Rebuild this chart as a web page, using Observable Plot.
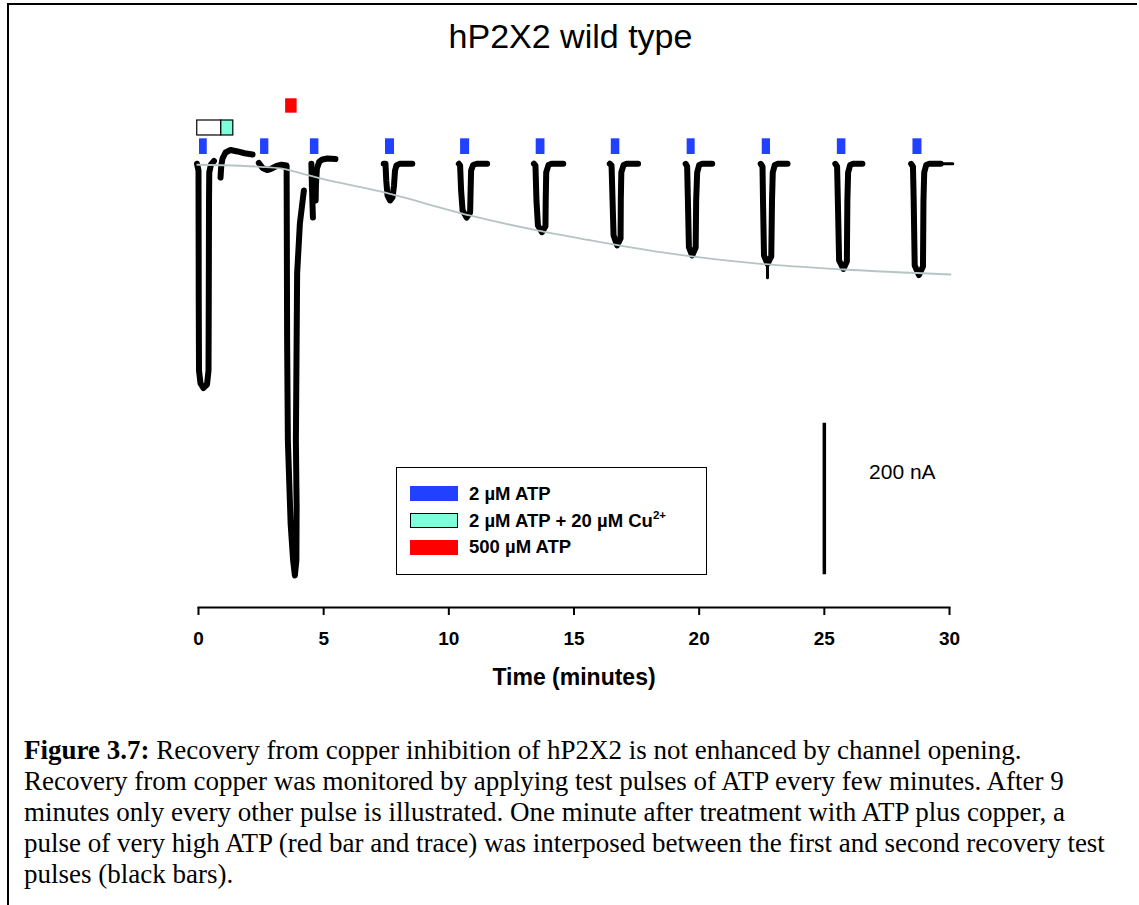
<!DOCTYPE html>
<html><head><meta charset="utf-8">
<script src="https://cdn.jsdelivr.net/npm/d3@7"></script>
<script src="https://cdn.jsdelivr.net/npm/@observablehq/plot@0.6"></script>
<style>
body{margin:0;background:#fff;}
#page{position:relative;width:1139px;height:905px;overflow:hidden;font-family:"Liberation Sans",Arial,sans-serif;color:#000;}
#border{position:absolute;left:7px;top:3px;width:1128px;height:920px;border-top:2px solid #000;border-left:2px solid #000;}
#title{position:absolute;top:17px;left:0;width:1141px;text-align:center;font-size:34px;line-height:38px;}
#chart{position:absolute;left:0;top:60px;}
#legend{position:absolute;left:396px;top:467px;width:311px;height:108px;box-sizing:border-box;border:1.5px solid #000;background:#fff;}
.sw{position:absolute;left:13px;width:48px;height:15px;box-sizing:border-box;}
.lt{position:absolute;left:72px;font-size:18.5px;font-weight:bold;line-height:22px;white-space:nowrap;}
.lt sup{font-size:11.5px;vertical-align:0;position:relative;top:-8px;}
#caption{position:absolute;left:24px;top:735px;font-family:"Liberation Serif","Times New Roman",serif;font-size:27px;line-height:31px;white-space:nowrap;}
</style></head>
<body><div id="page">
<div id="border"></div>
<div id="title">hP2X2 wild type</div>
<div id="chart"></div>
<div id="legend"></div>
<div id="caption"><b>Figure 3.7:</b> Recovery from copper inhibition of hP2X2 is not enhanced by channel opening.<br>Recovery from copper was monitored by applying test pulses of ATP every few minutes. After 9<br>minutes only every other pulse is illustrated. One minute after treatment with ATP plus copper, a<br>pulse of very high ATP (red bar and trace) was interposed between the first and second recovery test<br>pulses (black bars).</div>
</div>
<script>
// ---- data (time in minutes, current in nA) ----
const xTicks = [0, 5, 10, 15, 20, 25, 30];

const blueStart = [0.04, 2.48, 4.47, 7.47, 10.47, 13.49, 16.49, 19.52, 22.52, 25.52, 28.54];
const blueEnd   = [0.35, 2.81, 4.81, 7.83, 10.83, 13.84, 16.83, 19.84, 22.85, 25.86, 28.90];
const redStart = [3.48];
const redEnd   = [3.94];
const preStart = [-0.05];   // open (white) box
const preEnd   = [0.91];
const cuStart  = [0.91];    // 2 µM ATP + 20 µM Cu2+
const cuEnd    = [1.39];

const fitT = [-0.05, 1.68, 2.48, 3.28, 4.07, 4.87, 7.27, 10.87, 13.53, 15.53, 18.46, 22.45, 25.78, 30.04];
const fitI = [-1.3, -2.6, -4.0, -6.2, -12.2, -19.2, -36.6, -68.5, -88.1, -100.4, -116.8, -132.2, -139.7, -146.3];

const traceT = [
  [-0.06, 0, 0.01, 0.02, 0.08, 0.20, 0.34, 0.40, 0.41, 0.42, 0.43, 0.50, 0.62],
  [0.88, 0.91, 0.96, 1.08, 1.28, 1.56, 1.84, 2.16],
  [2.41, 2.56, 2.74, 2.88, 3.12, 3.32, 3.52, 3.53, 3.54, 3.57, 3.68, 3.78, 3.85, 3.91, 3.92, 3.89, 3.92, 3.94, 4.05, 4.21],
  [4.51, 4.53, 4.57],
  [4.68, 4.69, 4.73, 4.82, 4.95, 5.15, 5.47],
  [7.40, 7.47, 7.50, 7.55, 7.65, 7.75, 7.81, 7.85, 7.91, 8.03, 8.54],
  [10.40, 10.45, 10.49, 10.55, 10.71, 10.85, 10.87, 10.89, 10.97, 11.11, 11.53],
  [13.40, 13.46, 13.50, 13.56, 13.72, 13.86, 13.87, 13.89, 13.98, 14.10, 14.57],
  [16.43, 16.50, 16.54, 16.58, 16.72, 16.86, 16.87, 16.89, 16.98, 17.10, 17.56],
  [19.46, 19.52, 19.55, 19.59, 19.72, 19.86, 19.88, 19.92, 20.00, 20.12, 20.52],
  [22.46, 22.53, 22.55, 22.59, 22.73, 22.88, 22.91, 22.94, 23.02, 23.14, 23.53],
  [25.44, 25.51, 25.54, 25.59, 25.76, 25.90, 25.92, 25.95, 26.03, 26.15, 26.52],
  [28.47, 28.54, 28.57, 28.61, 28.78, 28.94, 28.96, 28.99, 29.07, 29.19, 29.65]
];
const traceI = [
  [0, -8.9, -180.7, -273.2, -290.3, -296.3, -291.7, -273.2, -180.7, -48.5, -11.5, -0.9, 3.7],
  [-18.1, -2.2, 7.0, 14.9, 18.2, 16.3, 13.9, 12.3],
  [1.1, -5.5, -8.2, -6.9, -2.9, -1.3, -2.2, -114.6, -233.5, -365.7, -475.4, -524.3, -544.1, -524.3, -454.2, -365.7, -233.5, -145.0, -78.9, -35.2],
  [0, -28.7, -71.0],
  [-48.5, -28.7, -6.2, 2.4, 5.7, 7.0, 6.3],
  [0, 0, -22.1, -41.9, -48.5, -44.5, -28.7, -8.9, -2.2, 0, 0],
  [0, -2.2, -35.3, -61.8, -71.1, -64.5, -35.3, -8.9, -1.6, 0, 0],
  [0, -2.2, -48.5, -81.5, -90.4, -82.5, -48.5, -11.5, -1.6, 0, 0],
  [0, -2.2, -48.5, -94.6, -107.8, -98.6, -48.5, -11.5, -1.6, 0, 0],
  [0, -3.6, -48.5, -110.2, -121.2, -110.6, -48.5, -11.5, -1.6, 0, 0],
  [0, -3.6, -48.5, -121.2, -132.2, -122.5, -48.5, -11.5, -1.6, 0, 0],
  [0, -3.6, -48.5, -127.8, -139.0, -129.1, -48.5, -11.5, -1.6, 0, 0],
  [0, -3.6, -48.5, -134.5, -147.0, -135.8, -48.5, -11.5, -1.6, 0, 0]
];
// thin parts of the recording (artifact spike, end of last sweep)
const thinT = [[22.73, 22.73], [29.55, 30.13]];
const thinI = [[-125.0, -150.6], [0, 0]];

const scaleBarT = [25];
const scaleBarTopI = [-343];
const scaleBarSize = [200];
const scaleBarLabel = ["200 nA"];

const legendLabels = ["2 µM ATP", "2 µM ATP + 20 µM Cu<sup>2+</sup>", "500 µM ATP"];

// ---- styles ----
const BLUE = "#2140ff", TEAL = "#7dffdc", RED = "#ff0000";
const blueRow = [12.3, 33.0], preRow = [37.4, 57.2], redRow = [66.9, 85.9];

const trace = traceT.flatMap((ts, s) => ts.map((t, k) => ({t, i: traceI[s][k], s})));
const thin = thinT.flatMap((ts, s) => ts.map((t, k) => ({t, i: thinI[s][k], s})));
const fit = fitT.map((t, k) => ({t, i: fitI[k]}));
const bar = (starts, ends) => starts.map((s, k) => ({x1: s, x2: ends[k]}));

const chart = Plot.plot({
  width: 1139, height: 650,
  marginLeft: 198, marginRight: 190, marginTop: 0, marginBottom: 103,
  style: {fontFamily: '"Liberation Sans", Arial, sans-serif', background: "transparent", overflow: "visible", color: "#000"},
  x: {domain: [0, 30]},
  y: {domain: [-586.4, 136.5], range: [547, 0], axis: null},
  marks: [
    Plot.frame({anchor: "bottom", strokeWidth: 2}),
    Plot.axisX(xTicks, {tickSize: 8, tickPadding: 16, fontSize: 19, fontWeight: "bold", label: null, strokeWidth: 2}),
    Plot.text(["Time (minutes)"], {frameAnchor: "bottom", dy: 77, fontSize: 23, fontWeight: "bold", text: d => d}),
    Plot.rect(bar(blueStart, blueEnd), {x1: "x1", x2: "x2", y1: () => blueRow[0], y2: () => blueRow[1], fill: BLUE}),
    Plot.rect(bar(redStart, redEnd), {x1: "x1", x2: "x2", y1: () => redRow[0], y2: () => redRow[1], fill: RED}),
    Plot.rect(bar(preStart, preEnd), {x1: "x1", x2: "x2", y1: () => preRow[0], y2: () => preRow[1], fill: "#fff", stroke: "#000", strokeWidth: 1.2}),
    Plot.rect(bar(cuStart, cuEnd), {x1: "x1", x2: "x2", y1: () => preRow[0], y2: () => preRow[1], fill: TEAL, stroke: "#000", strokeWidth: 1.2}),
    Plot.line(trace, {x: "t", y: "i", z: "s", stroke: "#000", strokeWidth: 6, strokeLinejoin: "round", strokeLinecap: "round"}),
    Plot.line(thin, {x: "t", y: "i", z: "s", stroke: "#000", strokeWidth: 3, strokeLinecap: "round"}),
    Plot.line(fit, {x: "t", y: "i", stroke: "#b6c4c4", strokeWidth: 1.8, curve: "monotone-x"}),
    Plot.ruleX(scaleBarT, {x: d => d, y1: (d, k) => scaleBarTopI[k], y2: (d, k) => scaleBarTopI[k] - scaleBarSize[k], stroke: "#000", strokeWidth: 3.5}),
    Plot.text(scaleBarLabel, {x: (d, k) => scaleBarT[k], y: (d, k) => scaleBarTopI[k] - scaleBarSize[k] / 2, text: d => d, dx: 78, dy: -27, fontSize: 21})
  ]
});
document.getElementById("chart").appendChild(chart);

// legend
const lg = document.getElementById("legend");
const swFill = [BLUE, TEAL, RED];
const swTop = [18, 45, 71.5];
legendLabels.forEach((lab, k) => {
  const sw = document.createElement("div");
  sw.className = "sw";
  sw.style.top = swTop[k] + "px";
  sw.style.background = swFill[k];
  if (k === 1) sw.style.border = "1px solid #000";
  lg.appendChild(sw);
  const tx = document.createElement("div");
  tx.className = "lt";
  tx.style.top = (swTop[k] - 3.5) + "px";
  tx.innerHTML = lab;
  lg.appendChild(tx);
});
</script>
</body></html>
